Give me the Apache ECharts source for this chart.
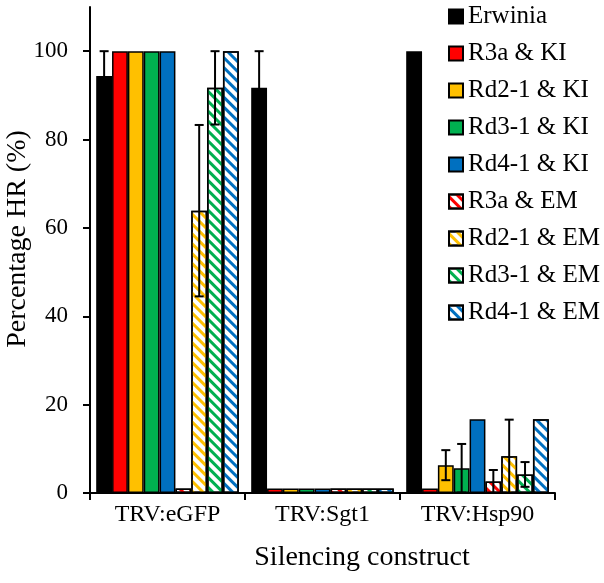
<!DOCTYPE html>
<html>
<head>
<meta charset="utf-8">
<script src="https://cdn.jsdelivr.net/npm/echarts@6/dist/echarts.min.js"></script>
<style>html,body{margin:0;padding:0;background:#fff}#c{width:604px;height:583px}</style>
</head>
<body>
<div id="c"></div>
<script>
const categories = ['TRV:eGFP', 'TRV:Sgt1', 'TRV:Hsp90'];
const yTicks = [0, 20, 40, 60, 80, 100];

const erwinia = [94.4, 91.7, 100];
const erwiniaErr = [5.6, 8.3, 0];
const r3aKI = [100, 1, 1];
const r3aKIErr = [0, 0, 0];
const rd21KI = [100, 1, 6.3];
const rd21KIErr = [0, 0, 3.4];
const rd31KI = [100, 1, 5.6];
const rd31KIErr = [0, 0, 5.5];
const rd41KI = [100, 1, 16.7];
const rd41KIErr = [0, 0, 0];
const r3aEM = [1, 1, 2.6];
const r3aEMErr = [0, 0, 2.6];
const rd21EM = [63.9, 1, 8.3];
const rd21EMErr = [19.4, 0, 8.3];
const rd31EM = [91.7, 1, 4.2];
const rd31EMErr = [8.3, 0, 2.8];
const rd41EM = [100, 1, 16.7];
const rd41EMErr = [0, 0, 0];

const seriesNames = ['Erwinia', 'R3a & KI', 'Rd2-1 & KI', 'Rd3-1 & KI', 'Rd4-1 & KI',
  'R3a & EM', 'Rd2-1 & EM', 'Rd3-1 & EM', 'Rd4-1 & EM'];
const seriesValues = [erwinia, r3aKI, rd21KI, rd31KI, rd41KI, r3aEM, rd21EM, rd31EM, rd41EM];
const seriesErrors = [erwiniaErr, r3aKIErr, rd21KIErr, rd31KIErr, rd41KIErr, r3aEMErr, rd21EMErr, rd31EMErr, rd41EMErr];
const seriesColors = ['#000000', '#FF0000', '#FFC000', '#00B050', '#0070C0', '#FF0000', '#FFC000', '#00B050', '#0070C0'];
const seriesStriped = [false, false, false, false, false, true, true, true, true];

const FONT = 'Liberation Serif';
const GAP = 0.08;
const N = seriesNames.length;

const barSeries = seriesNames.map((name, i) => {
  const style = { borderColor: '#000', borderWidth: 1.5 };
  if (seriesStriped[i]) {
    style.color = '#ffffff';
    style.decal = {
      symbol: 'rect', symbolSize: 1, color: seriesColors[i],
      dashArrayX: [1, 0], dashArrayY: [3, 4], rotation: Math.PI / 4
    };
  } else {
    style.color = seriesColors[i];
  }
  return {
    name: name, type: 'bar', data: seriesValues[i],
    barGap: 0, barCategoryGap: (GAP * 100) + '%',
    itemStyle: style, emphasis: { disabled: true }, animation: false
  };
});

const errData = [];
seriesValues.forEach((vals, s) => {
  vals.forEach((v, c) => {
    const e = seriesErrors[s][c];
    if (e > 0) errData.push([c, s, v, e]);
  });
});

const errSeries = {
  type: 'custom', data: errData, z: 10, animation: false, silent: true,
  encode: { x: 0, y: 2 },
  renderItem: function (params, api) {
    const c = api.value(0), s = api.value(1), v = api.value(2), e = api.value(3);
    const band = api.size([1, 0])[0];
    const groupW = band * (1 - GAP);
    const bw = groupW / N;
    const cx = api.coord([c, 0])[0] - groupW / 2 + (s + 0.5) * bw;
    const yt = api.coord([c, v + e])[1];
    const yb = api.coord([c, Math.max(v - e, 0)])[1];
    const hw = 4.5;
    const st = { stroke: '#000', lineWidth: 2, fill: null };
    return {
      type: 'group', children: [
        { type: 'line', shape: { x1: cx, y1: yt, x2: cx, y2: yb }, style: st },
        { type: 'line', shape: { x1: cx - hw, y1: yt, x2: cx + hw, y2: yt }, style: st },
        { type: 'line', shape: { x1: cx - hw, y1: yb, x2: cx + hw, y2: yb }, style: st }
      ]
    };
  }
};

const chart = echarts.init(document.getElementById('c'), null, { renderer: 'canvas' });
chart.setOption({
  backgroundColor: '#ffffff',
  animation: false,
  textStyle: { fontFamily: FONT, color: '#000' },
  grid: { left: 90, right: 49, top: 7, bottom: 90 },
  legend: {
    data: seriesNames, orient: 'vertical', left: 443, top: -1,
    itemWidth: 14, itemHeight: 14, itemGap: 12, icon: 'rect', selectedMode: false,
    textStyle: { fontFamily: FONT, fontSize: 25, color: '#000', lineHeight: 25 }
  },
  xAxis: {
    type: 'category', data: categories,
    axisLine: { lineStyle: { color: '#000', width: 2 } },
    axisTick: { show: true, length: 7, alignWithLabel: false, lineStyle: { color: '#000', width: 2 } },
    axisLabel: { fontFamily: FONT, fontSize: 24, color: '#000', margin: 10 }
  },
  yAxis: {
    type: 'value', min: 0, max: 110,
    axisLine: { show: true, lineStyle: { color: '#000', width: 2 } },
    axisTick: { show: true, length: 7, customValues: yTicks, lineStyle: { color: '#000', width: 2 } },
    axisLabel: { fontFamily: FONT, fontSize: 23, color: '#000', margin: 22, customValues: yTicks },
    splitLine: { show: false }
  },
  graphic: [
    { type: 'text', x: 18, y: 239, rotation: Math.PI / 2,
      style: { text: 'Percentage HR (%)', fontFamily: FONT, fontSize: 28, fill: '#000', align: 'center', verticalAlign: 'middle' } },
    { type: 'text', x: 362, y: 558,
      style: { text: 'Silencing construct', fontFamily: FONT, fontSize: 28, fill: '#000', align: 'center', verticalAlign: 'middle' } }
  ],
  series: barSeries.concat([errSeries])
});
</script>
</body>
</html>
